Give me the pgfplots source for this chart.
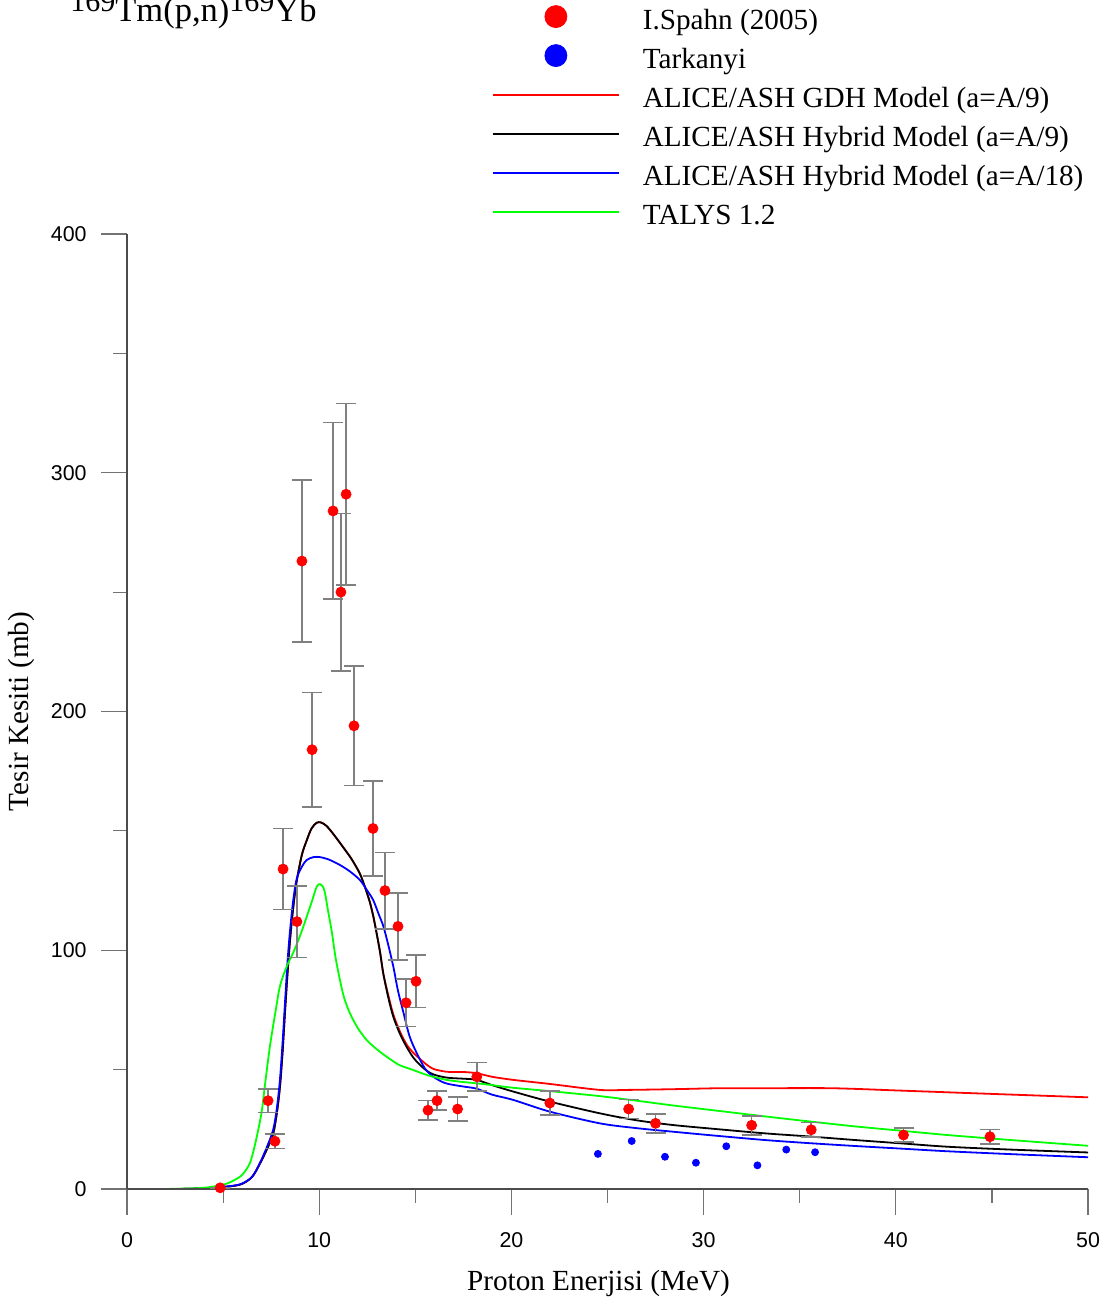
\documentclass[border=0pt]{standalone}
\usepackage{fontspec}
\setmainfont{Liberation Serif}
\setsansfont{Liberation Sans}
\usepackage{pgfplots}
\pgfplotsset{compat=1.18}
\usepackage{pgfplotstable}

\pgfplotsset{
  dotlegend/.style={legend image code/.code={\path (0pt,0pt) (63pt,0pt); \draw[##1, overlay, mark size=5.5pt] plot coordinates {(31.5pt,2.8pt)};}},
  linelegend/.style={legend image code/.code={\path (0pt,0pt) (63pt,0pt); \draw[##1, overlay, line width=1.05pt, draw=#1] (0pt,2.8pt) -- (63pt,2.8pt);}},
}

\pgfplotstableread{
x y e
4.85 0.5 0
7.34 37 5
7.70 20 3
8.12 134 17
8.84 112 15
9.10 263 34
9.63 184 24
10.72 284 37
11.13 250 33
11.40 291 38
11.81 194 25
12.80 151 20
13.42 125 16
14.10 110 14
14.52 78 10
15.04 87 11
15.66 33 4
16.13 37 4
17.20 33.5 5
18.20 47 6
22.00 36 5
26.10 33.5 4
27.50 27.5 4
32.50 26.7 4
35.60 24.8 3
40.40 22.6 3
44.90 21.9 3
}\spahn

\pgfplotstableread{
x y
24.5 14.7
26.26 20.1
27.99 13.5
29.6 11.0
31.18 17.9
32.8 9.9
34.3 16.5
35.8 15.4
}\tarkanyi

\pgfplotstableread{
x y
2.0 0
3.0 0.05
4.0 0.3
5.0 0.8
5.9 1.9
6.5 5
6.92 10.7
7.3 17
7.61 23.3
7.8 32
7.96 43
8.1 58
8.22 74
8.35 90
8.48 104
8.65 118
8.83 129
9.1 140
9.35 146
9.6 151
9.87 153.4
10.1 153.5
10.39 152
10.8 148
11.26 143
11.7 138
12.12 132
12.4 126
12.64 120
12.82 114
12.99 107
13.17 99
13.34 90
13.6 81
13.86 73
14.2 66
14.55 60.5
14.9 57
15.24 54.5
15.6 52
15.94 50.3
16.4 49.4
16.8 49
17.5 49
18.2 48.5
19.0 47
20.1 45.7
22.0 44
24.6 41.5
26.0 41.5
28.4 41.8
30.8 42.2
33.0 42.2
36.7 42.2
40.3 41.2
45.1 39.8
50.0 38.4
}\gdh

\pgfplotstableread{
x y
2.0 0
3.0 0.05
4.0 0.3
5.0 0.8
5.9 1.9
6.5 5
6.92 10.7
7.3 17
7.61 23.3
7.8 32
7.96 43
8.1 58
8.22 74
8.35 90
8.48 104
8.65 118
8.83 129
9.1 140
9.35 146
9.6 151
9.87 153.4
10.1 153.5
10.39 152
10.8 148
11.26 143
11.7 138
12.12 132
12.4 126
12.64 120
12.82 114
12.99 107
13.17 99
13.34 90
13.6 80
13.86 72
14.2 65
14.55 59.5
14.9 55
15.24 52
15.6 49.5
15.94 48
16.4 47
16.8 46.5
17.5 46.2
18.2 45.7
19.0 43.5
20.1 40.8
22.0 36.6
24.6 31.7
26.5 28.8
28.4 26.8
30.8 25
33.2 23.3
35.5 22
37.9 20.5
40.3 19.1
42.7 17.7
46.0 16.5
50.0 15.3
}\hybnine

\pgfplotstableread{
x y
2.0 0
3.0 0.05
4.0 0.3
5.0 0.9
5.9 2
6.5 5
6.92 11
7.3 18
7.61 25
7.8 34
7.96 46
8.1 62
8.22 78
8.35 95
8.48 108
8.65 121
8.83 130
9.1 135
9.35 137.8
9.7 139
10.04 139
10.5 138
11.08 135.7
11.6 133
12.12 129.4
12.5 125
12.81 121
13.1 115
13.34 110
13.6 102
13.86 93
14.1 83
14.38 74
14.7 64
15.07 57
15.5 50.5
15.94 47
16.5 44.5
16.98 43.6
17.6 42.8
18.2 42
19.0 39.5
20.1 37.3
22.0 32.4
24.6 27.5
26.5 25.5
28.4 24
30.8 22.2
33.2 20.5
35.5 19.2
37.9 18
40.3 16.9
42.7 15.8
46.0 14.6
50.0 13.3
}\hybeighteen

\pgfplotstableread{
x y
2.0 0
3.0 0.2
4.0 0.5
5.0 1.8
5.53 3.5
6.0 6
6.4 11
6.7 20
7.0 32
7.2 45
7.44 60
7.7 73
7.96 85
8.3 93
8.65 99
9.0 106
9.35 114
9.6 120
9.87 126.6
10.04 127.7
10.2 126.5
10.3 124
10.45 117
10.65 108
10.85 97
11.08 87.5
11.3 80
11.6 73.6
12.0 67.5
12.47 62.4
13.0 58.5
13.51 55.4
14.15 52
14.9 49.8
15.7 47.5
16.63 45.7
17.5 44.8
18.5 44
20.1 42.4
22.0 41
24.6 38.9
26.5 37
28.4 35
30.8 32.7
33.2 30.4
35.5 28.3
37.9 26.2
40.3 24.4
42.7 22.6
46.0 20.5
50.0 18.1
}\talys

\begin{document}
\begin{tikzpicture}
\begin{axis}[
  set layers,
  at={(0pt,0pt)}, anchor=origin,
  scale only axis,
  width=480.5pt, height=477.5pt,
  xmin=0, xmax=50, ymin=0, ymax=400,
  axis lines*=left,
  axis line style={black!70, line width=0.6pt},
  tick align=outside,
  xtick={0,10,20,30,40,50},
  ytick={0,100,200,300,400},
  minor x tick num=1, minor y tick num=1,
  major tick length=13pt, minor tick length=6.8pt,
  every tick/.style={black!55, line width=0.6pt},
  tick label style={font=\sffamily\fontsize{10.7}{12}\selectfont},
  /pgf/number format/assume math mode=true,
  xticklabel style={anchor=north, inner sep=0pt, yshift=-8.5pt},
  yticklabel style={anchor=east, inner sep=0pt, xshift=-7pt},
  xlabel={Proton Enerjisi (MeV)},
  ylabel={Tesir Kesiti (mb)},
  every axis x label/.style={at={(axis description cs:0.4906,0)}, yshift=-47pt, anchor=center, font=\fontsize{14.6}{17}\selectfont},
  every axis y label/.style={at={(axis description cs:-0.1093,0.5)}, rotate=90, anchor=center, font=\fontsize{14.6}{17}\selectfont},
  legend style={draw=none, fill=none, inner sep=0pt, outer sep=0pt,
    row sep=6.5pt, column sep=11.5pt,
    nodes={inner sep=0pt, text height=10pt, text depth=3pt, anchor=west},
    font=\fontsize{14.6}{17}\selectfont,
    at={(0.3798,1.2354)}, anchor=north west},
  legend cell align=left,
]
\addplot[only marks, mark=*, mark size=2.5pt, red, dotlegend,
  error bars/.cd, y dir=both, y explicit,
  error bar style={black!50, line width=0.8pt},
  error mark options={rotate=90, mark size=5pt, black!50, line width=0.8pt}]
  table[x=x, y=y, y error=e] {\spahn};
\addlegendentry{I.Spahn (2005)}
\addplot[only marks, mark=*, mark size=1.75pt, blue, dotlegend]
  table[x=x, y=y] {\tarkanyi};
\addlegendentry{Tarkanyi}
\addplot[on layer=axis grid, red, line width=0.9pt, smooth, linelegend=red] table[x=x, y=y] {\gdh};
\addlegendentry{ALICE/ASH GDH Model (a=A/9)}
\addplot[on layer=axis grid, black, line width=0.9pt, smooth, linelegend=black] table[x=x, y=y] {\hybnine};
\addlegendentry{ALICE/ASH Hybrid Model (a=A/9)}
\addplot[on layer=axis grid, blue, line width=0.9pt, smooth, linelegend=blue] table[x=x, y=y] {\hybeighteen};
\addlegendentry{ALICE/ASH Hybrid Model (a=A/18)}
\addplot[on layer=axis grid, green, line width=0.9pt, smooth, linelegend=green] table[x=x, y=y] {\talys};
\addlegendentry{TALYS 1.2}
\end{axis}
\node[anchor=base west, inner sep=0pt, font=\fontsize{17.25}{20}\selectfont] at (-28.5pt,583.5pt)
  {\raisebox{5pt}{\fontsize{15}{17}\selectfont 169}Tm(p,n)\raisebox{5pt}{\fontsize{15}{17}\selectfont 169}Yb};
\pgfresetboundingbox
\path[use as bounding box] (-63.5pt,-57.5pt) rectangle (495pt,594.5pt);
\end{tikzpicture}
\end{document}
